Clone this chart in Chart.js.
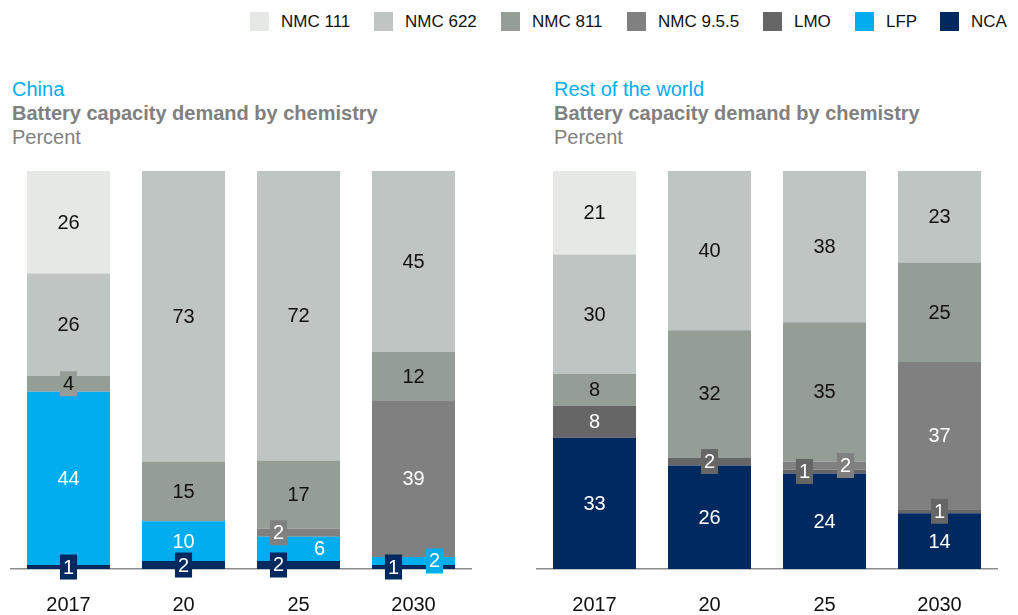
<!DOCTYPE html>
<html>
<head>
<meta charset="utf-8">
<script src="https://cdn.jsdelivr.net/npm/chart.js@4"></script>
<style>
  body { margin: 0; background: #fff; font-family: "Liberation Sans", Arial, sans-serif; }
  #page { position: relative; width: 1018px; height: 615px; overflow: hidden; }
  #legend { position: absolute; top: 12px; left: 0; width: 1018px; height: 20px; font-size: 17px; color: #111; white-space: nowrap; }
  #legend .item { position: absolute; top: 0; display: flex; align-items: center; height: 19px; }
  #legend .sw { width: 19px; height: 19px; margin-right: 12px; }
  .titles { position: absolute; top: 77px; font-size: 20px; line-height: 24px; color: #808080; white-space: nowrap; }
  .titles .region { color: #00aeef; }
  .titles .main { font-weight: bold; }
  .wrap { position: absolute; top: 150px; width: 509px; height: 465px; }
</style>
</head>
<body>
<div id="page">
  <div id="legend"></div>
  <div class="titles" style="left:12px">
    <div class="region">China</div>
    <div class="main">Battery capacity demand by chemistry</div>
    <div>Percent</div>
  </div>
  <div class="titles" style="left:554px">
    <div class="region">Rest of the world</div>
    <div class="main">Battery capacity demand by chemistry</div>
    <div>Percent</div>
  </div>
  <div class="wrap" style="left:0"><canvas id="chinaChart"></canvas></div>
  <div class="wrap" style="left:509px"><canvas id="rowChart"></canvas></div>
</div>
<script>
// --- categories and series (stack order, bottom first) ---
const years = ['2017', '20', '25', '2030'];
const chemistries = ['NCA', 'LFP', 'LMO', 'NMC 9.5.5', 'NMC 811', 'NMC 622', 'NMC 111'];
const legendOrder = ['NMC 111', 'NMC 622', 'NMC 811', 'NMC 9.5.5', 'LMO', 'LFP', 'NCA'];

// --- China, percent ---
const chinaNca    = [1, 2, 2, 1];
const chinaLfp    = [44, 10, 6, 2];
const chinaLmo    = [0, 0, 0, 0];
const chinaNmc955 = [0, 0, 2, 39];
const chinaNmc811 = [4, 15, 17, 12];
const chinaNmc622 = [26, 73, 72, 45];
const chinaNmc111 = [26, 0, 0, 0];

// --- Rest of the world, percent ---
const rowNca    = [33, 26, 24, 14];
const rowLfp    = [0, 0, 0, 0];
const rowLmo    = [8, 2, 1, 1];
const rowNmc955 = [0, 0, 2, 37];
const rowNmc811 = [8, 32, 35, 25];
const rowNmc622 = [30, 40, 38, 23];
const rowNmc111 = [21, 0, 0, 0];

const colors = {
    'NMC 111': '#e6e8e6',
    'NMC 622': '#bfc5c2',
    'NMC 811': '#959d97',
    'NMC 9.5.5': '#808080',
    'LMO': '#666666',
    'LFP': '#00adef',
    'NCA': '#00295f'
};
const textColors = {
    'NMC 111': '#111', 'NMC 622': '#111', 'NMC 811': '#111',
    'NMC 9.5.5': '#fff', 'LMO': '#fff', 'LFP': '#fff', 'NCA': '#fff'
};

// small labels pushed to one side of the bar so they don't collide
const chinaSides = { 'NCA': { 2: 'left', 3: 'left' }, 'NMC 9.5.5': { 2: 'left' }, 'LFP': { 2: 'right', 3: 'right' } };
const rowSides = { 'LMO': { 2: 'left' }, 'NMC 9.5.5': { 2: 'right' } };

// legend, swatch left edges in px
const legendX = [250, 374, 501, 627, 763, 855, 940];
const legendEl = document.getElementById('legend');
legendOrder.forEach((name, k) => {
    legendEl.innerHTML += `<div class="item" style="left:${legendX[k]}px"><div class="sw" style="background:${colors[name]}"></div><span>${name}</span></div>`;
});

const FONT = '"Liberation Sans", Arial, sans-serif';

// labels show the rounded shares as printed; bars are drawn as a 100% stack
const segmentLabels = {
    id: 'segmentLabels',
    afterDatasetsDraw(chart, args, opts) {
        const ctx = chart.ctx;
        const sides = opts.sides || {};
        ctx.save();
        ctx.font = '20px ' + FONT;
        ctx.textAlign = 'center';
        ctx.textBaseline = 'middle';
        chart.data.datasets.forEach((ds, di) => {
            const meta = chart.getDatasetMeta(di);
            meta.data.forEach((bar, i) => {
                const v = ds.rawValues[i];
                if (!v) return;
                const cy = (bar.y + bar.base) / 2;
                const side = (sides[ds.label] || {})[i];
                const x = bar.x + (side === 'left' ? -20 : side === 'right' ? 21 : 0);
                if (v < 5) {
                    const w = ctx.measureText(String(v)).width + 6;
                    ctx.fillStyle = ds.backgroundColor;
                    ctx.fillRect(x - w / 2, cy - 12.5, w, 25);
                }
                ctx.fillStyle = textColors[ds.label];
                ctx.fillText(String(v), x, cy + 1);
            });
        });
        ctx.restore();
    }
};

function makeChart(id, values, sides, padLeft, padRight) {
    const totals = years.map((_, i) => values.reduce((s, arr) => s + arr[i], 0));
    const datasets = chemistries.map((name, k) => ({
        label: name,
        rawValues: values[k],
        data: values[k].map((v, i) => v * 100 / totals[i]),
        backgroundColor: colors[name],
        borderWidth: 0,
        barPercentage: 0.722,
        categoryPercentage: 1.0
    }));
    return new Chart(document.getElementById(id), {
        type: 'bar',
        data: { labels: years, datasets },
        options: {
            responsive: true,
            maintainAspectRatio: false,
            animation: false,
            layout: { padding: { top: 21, left: padLeft, right: padRight, bottom: 0 } },
            plugins: {
                legend: { display: false },
                tooltip: { enabled: false },
                segmentLabels: { sides }
            },
            scales: {
                x: {
                    stacked: true,
                    grid: { display: false, drawTicks: false },
                    border: { display: true, color: '#8c8c8c', width: 1.5 },
                    ticks: { color: '#111', padding: 24, font: { family: FONT, size: 20 } },
                    afterFit: s => { s.height = 46; }
                },
                y: { stacked: true, display: false, min: 0, max: 100 }
            }
        },
        plugins: [segmentLabels]
    });
}

makeChart('chinaChart',
    [chinaNca, chinaLfp, chinaLmo, chinaNmc955, chinaNmc811, chinaNmc622, chinaNmc111],
    chinaSides, 11, 38);
makeChart('rowChart',
    [rowNca, rowLfp, rowLmo, rowNmc955, rowNmc811, rowNmc622, rowNmc111],
    rowSides, 28, 21);
</script>
</body>
</html>
